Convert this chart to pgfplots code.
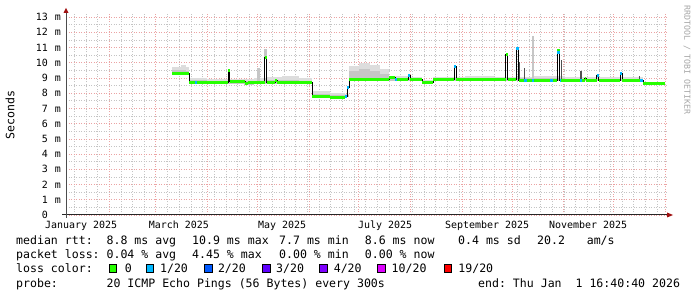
\documentclass[border=0pt]{standalone}
\usepackage{pgfplots}
\pgfplotsset{compat=1.18}
\usepackage{pgfplotstable}
\usepackage{fontspec}
\setmonofont{DejaVu Sans Mono}
\definecolor{lc0}{HTML}{26FF00}
\definecolor{lc1}{HTML}{00B8FF}
\definecolor{lc2}{HTML}{0059FF}
\definecolor{lc3}{HTML}{5E00FF}
\definecolor{lc4}{HTML}{7E00FF}
\definecolor{lc10}{HTML}{DD00FF}
\definecolor{lc19}{HTML}{FF0000}
\definecolor{gridminor}{HTML}{C4C4C4}
\definecolor{gridmajor}{HTML}{EBA3A3}
\definecolor{smokeA}{HTML}{DDDDDD}
\definecolor{smokeB}{HTML}{C6C6C6}
\definecolor{smokeD}{HTML}{505050}
\definecolor{arrowred}{HTML}{A01010}
\newcommand\lf{\ttfamily\fontsize{11.6}{13}\selectfont}
\newcommand\af{\ttfamily\fontsize{10}{12}\selectfont}
\newcommand\yl[2]{\makebox[14bp][r]{#1}\makebox[13bp][r]{#2}}
% smoke rectangle: x0 x1 lo hi mid
\newcommand\smk[5]{%
  \addplot[fill=smokeA, draw=none] coordinates {(#1,#3) (#2,#3) (#2,#4) (#1,#4)};
  \addplot[fill=smokeB, draw=none] coordinates {(#1,#3) (#2,#3) (#2,#5) (#1,#5)};}
% vertical segment: x y0 y1 style
\newcommand\vseg[4]{\addplot[#4] coordinates {(#1,#2) (#1,#3)};}
% horizontal loss segment: x0 x1 y
\newcommand\hseg[3]{\addplot[lc1, line width=3bp] coordinates {(#1,#3) (#2,#3)};}

% median RTT (days since 1 Jan 2025, milliseconds)
\pgfplotstableread{
x y
68.83 9.32
79.04 8.70
102.46 9.52
103.36 8.77
112.67 8.63
114.47 8.70
124.38 10.37
125.59 8.70
130.69 8.83
131.89 8.70
152.91 7.78
163.72 7.72
172.73 7.81
173.93 8.40
175.14 8.90
199.16 9.04
202.76 8.90
210.57 9.19
211.77 8.90
218.98 8.71
225.59 8.90
238.20 9.78
239.40 8.93
269.25 10.54
270.33 8.90
275.44 10.93
276.94 8.86
300.06 10.83
301.56 8.86
316.58 8.96
317.48 8.86
323.78 9.19
324.98 8.86
337.90 9.29
339.10 8.86
351.71 8.65
364.92 8.65
}\median

\begin{document}
\begin{tikzpicture}
\path[use as bounding box] (0bp,0bp) rectangle (697bp,297bp);
\begin{axis}[
  name=ax, at={(66bp,82bp)}, anchor=south west,
  scale only axis, width=601bp, height=201bp,
  xmin=5.17, xmax=366.1, ymin=0, ymax=13.2,
  axis line style={draw=none},
  grid=both,
  major grid style={gridmajor, dash pattern=on 1bp off 1.5bp, line width=0.6bp},
  minor grid style={gridminor, dash pattern=on 1bp off 1.5bp, line width=0.6bp},
  xtick={31,59,90,120,151,181,212,243,273,304,334,365},
  xticklabels={},
  minor xtick={10.15,17.15,24.15,38.15,45.15,52.15,66.15,73.15,80.15,87.15,94.15,101.15,108.15,115.15,122.15,129.15,136.15,143.15,150.15,157.15,164.15,171.15,178.15,185.15,192.15,199.15,206.15,213.15,220.15,227.15,234.15,241.15,248.15,255.15,262.15,269.15,276.15,283.15,290.15,297.15,304.15,311.15,318.15,325.15,332.15,339.15,346.15,353.15,360.15},
  ytick={0,1,...,13},
  minor ytick={0.5,1.5,...,12.5},
  yticklabels={\yl{0}{},\yl{1}{m},\yl{2}{m},\yl{3}{m},\yl{4}{m},\yl{5}{m},\yl{6}{m},\yl{7}{m},\yl{8}{m},\yl{9}{m},\yl{10}{m},\yl{11}{m},\yl{12}{m},\yl{13}{m}},
  extra x ticks={14.2,73.0,134.9,196.8,258.1,318.7},
  extra x tick labels={January 2025,March 2025,May 2025,July 2025,September 2025,November 2025},
  extra x tick style={grid=none},
  major tick length=0pt, minor tick length=0pt,
  xticklabel style={font=\af, anchor=base, yshift=-13.3bp, inner sep=0pt},
  yticklabel style={font=\af, anchor=east, inner sep=0pt, xshift=-5bp},
]
% smoke
\smk{68.83}{74.00}{9.22}{9.74}{9.50}
\smk{74.00}{77.50}{9.22}{9.82}{9.55}
\smk{77.50}{79.04}{9.22}{9.70}{9.45}
\smk{79.04}{90.00}{8.62}{9.00}{8.85}
\smk{90.00}{100.00}{8.62}{8.93}{8.82}
\smk{100.00}{112.00}{8.62}{8.95}{8.82}
\smk{112.00}{118.00}{8.56}{8.92}{8.78}
\smk{118.00}{125.59}{8.62}{8.97}{8.82}
\smk{125.59}{135.00}{8.62}{9.05}{8.85}
\smk{135.00}{145.00}{8.62}{9.10}{8.88}
\smk{145.00}{152.91}{8.62}{9.02}{8.82}
\smk{152.91}{163.72}{7.70}{8.15}{7.95}
\smk{163.72}{172.73}{7.65}{8.02}{7.85}
\smk{172.73}{175.14}{7.75}{7.95}{7.85}
\smk{175.14}{181.00}{8.82}{9.80}{9.45}
\smk{181.00}{188.00}{8.82}{10.00}{9.60}
\smk{188.00}{194.00}{8.82}{9.88}{9.45}
\smk{194.00}{199.16}{8.82}{9.60}{9.25}
\smk{199.16}{212.00}{8.82}{9.12}{9.00}
\smk{212.00}{218.98}{8.82}{9.06}{8.98}
\smk{218.98}{225.59}{8.64}{8.85}{8.78}
\smk{225.59}{245.00}{8.82}{9.06}{8.97}
\smk{245.00}{262.00}{8.82}{9.10}{8.98}
\smk{262.00}{285.00}{8.82}{9.05}{8.97}
\smk{285.00}{305.00}{8.80}{9.10}{8.98}
\smk{305.00}{330.00}{8.80}{9.08}{8.96}
\smk{330.00}{351.71}{8.80}{9.05}{8.95}
\smk{351.71}{364.92}{8.58}{8.75}{8.70}
% isolated smoke spikes
\vseg{120.7}{8.8}{9.65}{smokeB, line width=2.5bp}
\vseg{124.9}{10.37}{10.9}{smokeB, line width=2.5bp}
\vseg{285.6}{8.9}{11.75}{smokeB, line width=2.5bp}
\vseg{277.5}{8.9}{10.06}{smokeD, line width=1.6bp}
\vseg{280.6}{8.9}{9.65}{smokeD, line width=1.6bp}
\vseg{302.8}{8.9}{10.2}{smokeD, line width=1.6bp}
\vseg{314.5}{8.9}{9.45}{smokeD, line width=1.6bp}
\vseg{349.6}{8.9}{9.15}{smokeD, line width=1.6bp}
% median line
\addplot[black, line width=1bp, const plot] table[x=x, y=y]{\median};
\addplot[lc0, line width=3bp, jump mark left] table[x=x, y=y]{\median};
% 1/20 loss segments
\hseg{82.64}{83.84}{8.70}
\hseg{172.73}{173.93}{7.81}
\hseg{173.93}{175.14}{8.40}
\hseg{202.76}{203.96}{8.90}
\hseg{210.57}{211.77}{9.19}
\hseg{238.20}{239.40}{9.78}
\hseg{275.44}{276.94}{10.93}
\hseg{280.24}{282.04}{8.86}
\hseg{284.86}{286.25}{8.86}
\hseg{296.00}{297.50}{8.86}
\hseg{300.06}{301.56}{10.70}
\hseg{301.56}{302.46}{8.86}
\hseg{313.87}{315.08}{8.86}
\hseg{323.78}{324.98}{9.19}
\hseg{337.90}{339.10}{9.29}
\hseg{349.85}{351.71}{8.80}
\end{axis}
% axis lines and arrows
\draw[black!85, line width=1bp] (62bp,82bp) -- (668bp,82bp);
\draw[black!70, line width=1bp] (66bp,79bp) -- (66bp,284bp);
\fill[arrowred] (667bp,79.5bp) -- (673bp,82bp) -- (667bp,84.5bp) -- cycle;
\fill[arrowred] (63.5bp,284bp) -- (66bp,289bp) -- (68.5bp,284bp) -- cycle;
% axis title and watermark
\node[rotate=90, font=\lf, inner sep=0pt] at (10bp,182bp) {Seconds};
\node[rotate=-90, anchor=west, font=\ttfamily\fontsize{8.3}{10}\selectfont, text=black!35, inner sep=0pt] at (687bp,292bp) {RRDTOOL / TOBI OETIKER};
% legend
\begin{scope}[every node/.style={anchor=base west, inner sep=0pt, font=\lf}]
\node at (16bp,52.7bp) {median rtt:};
\node at (106.4bp,52.7bp) {8.8 ms avg};
\node at (192bp,52.7bp) {10.9 ms max};
\node at (279bp,52.7bp) {7.7 ms min};
\node at (364.7bp,52.7bp) {8.6 ms now};
\node at (458bp,52.7bp) {0.4 ms sd};
\node at (537bp,52.7bp) {20.2};
\node at (586.6bp,52.7bp) {am/s};
\node at (16bp,38.4bp) {packet loss:};
\node at (106.4bp,38.4bp) {0.04 \% avg};
\node at (192bp,38.4bp) {4.45 \% max};
\node at (279bp,38.4bp) {0.00 \% min};
\node at (364.7bp,38.4bp) {0.00 \% now};
\node at (16bp,24.1bp) {loss color:};
\node at (124.7bp,24.1bp) {0};
\node at (159.9bp,24.1bp) {1/20};
\node at (217.8bp,24.1bp) {2/20};
\node at (276bp,24.1bp) {3/20};
\node at (333.6bp,24.1bp) {4/20};
\node at (391.5bp,24.1bp) {10/20};
\node at (458.2bp,24.1bp) {19/20};
\node at (16bp,9.8bp) {probe:};
\node at (106.4bp,9.8bp) {20 ICMP Echo Pings (56 Bytes) every 300s};
\node at (478bp,9.8bp) {end: Thu Jan\ \ 1 16:40:40 2026};
\end{scope}
\begin{scope}[every node/.style={anchor=south west, inner sep=0pt, draw=black, line width=0.8bp, minimum width=7.6bp, minimum height=8bp}]
\node[fill=lc0] at (108.6bp,23.7bp) {};
\node[fill=lc1] at (145.5bp,23.7bp) {};
\node[fill=lc2] at (204.4bp,23.7bp) {};
\node[fill=lc3] at (262.3bp,23.7bp) {};
\node[fill=lc4] at (319.3bp,23.7bp) {};
\node[fill=lc10] at (377.2bp,23.7bp) {};
\node[fill=lc19] at (443.6bp,23.7bp) {};
\end{scope}
\end{tikzpicture}
\end{document}
